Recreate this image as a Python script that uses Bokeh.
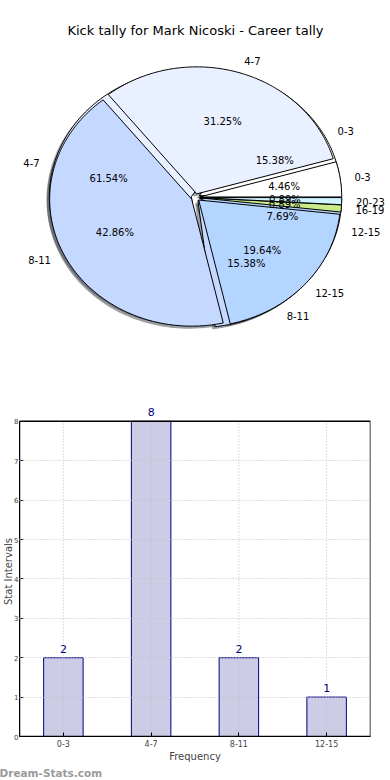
import numpy as np
from bokeh.plotting import figure
from bokeh.models import (Range1d, FactorRange, ColumnDataSource, Label, FixedTicker,
                          BoxAnnotation, Title)
from bokeh.embed import file_html
from bokeh.resources import INLINE
from bokeh.core.properties import value

# ---------------- data ----------------
title_text = "Kick tally for Mark Nicoski - Career tally"
career_labels = ["0-3", "4-7", "8-11", "12-15", "16-19", "20-23"]
career_counts = [5, 35, 48, 22, 1, 1]
season_labels = ["0-3", "4-7", "8-11", "12-15"]
season_counts = [2, 8, 2, 1]
y_ticks = [0, 1, 2, 3, 4, 5, 6, 7, 8]
x_axis_label = "Frequency"
y_axis_label = "Stat Intervals"
watermark = "Dream-Stats.com"

# ---------------- style ----------------
FONT = "DejaVu Sans"
palette = ["#ffffff", "#e9f0ff", "#c5d8ff", "#b4d5ff", "#ccec8c", "#cdf4ff"]
W, H1, H2 = 390, 400, 378
TOP1 = 38
RX, RY = 142.0, 127.0      # pie radii in pixels (elliptical pie, as in the original)
CX, CY = 195.0, 197.0      # pie centre in figure pixels (from top-left)
EXPLODE = 0.03
SHADOW = (-0.02, -0.02)
GRID_COLOR = "#c0c0c0"


def hex_to_rgb(h):
    h = h.lstrip("#")
    return tuple(int(h[i:i + 2], 16) for i in (0, 2, 4))


def shadow_color(h):
    r, g, b = hex_to_rgb(h)
    return "#%02x%02x%02x" % (int(r * 0.3), int(g * 0.3), int(b * 0.3))


def pie_geometry(counts):
    """Wedges in pixel units around the pie centre (y up)."""
    fr = np.asarray(counts, dtype=float) / float(sum(counts))
    ends = np.cumsum(fr) * 2 * np.pi
    starts = np.concatenate([[0.0], ends[:-1]])
    res = []
    for s, e, f in zip(starts, ends, fr):
        mid = 0.5 * (s + e)
        ex, ey = EXPLODE * np.cos(mid), EXPLODE * np.sin(mid)
        t = np.linspace(s, e, max(4, int((e - s) * 60)))
        xs = RX * np.concatenate([[ex], ex + np.cos(t), [ex]])
        ys = RY * np.concatenate([[ey], ey + np.sin(t), [ey]])
        res.append(dict(mid=mid, ex=ex, ey=ey, xs=xs, ys=ys, pct="%.2f%%" % (f * 100)))
    return res


def at(w, r):
    return (RX * (w["ex"] + r * np.cos(w["mid"])), RY * (w["ey"] + r * np.sin(w["mid"])))


p1 = figure(width=W, height=H1, output_backend="svg", toolbar_location=None,
            title=title_text, x_axis_location=None, y_axis_location=None,
            x_range=Range1d(-CX, W - CX),
            y_range=Range1d(-(H1 - CY), CY - TOP1),
            min_border_left=0, min_border_right=0, min_border_top=TOP1,
            min_border_bottom=0)
p1.title.align = "center"
p1.title.text_font = FONT
p1.title.text_font_size = "13px"
p1.title.text_font_style = "normal"
p1.title.text_color = "#000000"
p1.title.standoff = 2
p1.grid.visible = False
p1.outline_line_color = None
p1.background_fill_color = "white"

pies = [(season_labels, season_counts), (career_labels, career_counts)]
geoms = [pie_geometry(c) for _, c in pies]

# shadows (below every wedge)
for g in geoms:
    p1.patches([w["xs"] + SHADOW[0] * RX for w in g], [w["ys"] + SHADOW[1] * RY for w in g],
               fill_color=[shadow_color(palette[i]) for i in range(len(g))],
               fill_alpha=0.5, line_color=None)

# wedges: season pie first, career pie on top
for g in geoms:
    p1.patches([w["xs"] for w in g], [w["ys"] for w in g],
               fill_color=[palette[i] for i in range(len(g))],
               line_color="#000000", line_width=1)

# texts
for (labels, _), g in zip(pies, geoms):
    lab = [at(w, 1.1) for w in g]
    left = [i for i in range(len(g)) if lab[i][0] > 0]
    right = [i for i in range(len(g)) if lab[i][0] <= 0]
    for idx, al in ((left, "left"), (right, "right")):
        if idx:
            p1.text([lab[i][0] for i in idx], [lab[i][1] for i in idx],
                    [labels[i] for i in idx],
                    text_align=al, text_baseline="middle", text_font=value(FONT),
                    text_font_size="10px", text_color="#000000")
    pc = [at(w, 0.6) for w in g]
    p1.text([q[0] for q in pc], [q[1] for q in pc], [w["pct"] for w in g],
            text_align="center", text_baseline="middle",
            text_font=value(FONT), text_font_size="10px", text_color="#000000")

# ---------------- bar chart ----------------
TOP_PAD_PX = 15           # room above the box for the value labels
BOX_TOP_PX = 21           # box top, from the figure top
BOTTOM_BORDER = 38
frame_h = H2 - (BOX_TOP_PX - TOP_PAD_PX) - BOTTOM_BORDER
box_h = frame_h - TOP_PAD_PX
y_max = y_ticks[-1] * frame_h / box_h

src = ColumnDataSource(dict(cat=season_labels, val=season_counts))
p2 = figure(width=W, height=H2, output_backend="svg", toolbar_location=None,
            x_range=FactorRange(*season_labels, range_padding=0),
            y_range=Range1d(0, y_max),
            min_border_left=0, min_border_right=20,
            min_border_top=BOX_TOP_PX - TOP_PAD_PX, min_border_bottom=BOTTOM_BORDER)
p2.outline_line_color = None
p2.vbar(x="cat", top="val", width=0.45, source=src, fill_color="#cccce6",
        line_color="#000080", line_width=1)
# vertical grid lines at the categories, only inside the box
p2.segment(x0=season_labels, y0=[y_ticks[0]] * len(season_labels),
           x1=season_labels, y1=[y_ticks[-1]] * len(season_labels),
           line_color=GRID_COLOR, line_dash="1 2", line_width=1)
p2.xgrid.visible = False
p2.ygrid.ticker = FixedTicker(ticks=y_ticks[1:-1])
p2.ygrid.grid_line_color = GRID_COLOR
p2.ygrid.grid_line_dash = "1 2"
p2.ygrid.level = "overlay"
p2.add_layout(BoxAnnotation(bottom=y_ticks[0], top=y_ticks[-1], fill_alpha=0,
                            line_color="#000000", line_width=1.5, line_alpha=1))
for i, v in enumerate(season_counts):
    p2.add_layout(Label(x=i + 0.5, y=v, text=str(v), text_align="center",
                        text_baseline="bottom", y_offset=5, text_font=FONT,
                        text_font_size="11px", text_color="#000080"))
p2.yaxis.ticker = FixedTicker(ticks=y_ticks)
p2.yaxis.bounds = (y_ticks[0], y_ticks[-1])
for ax in (p2.xaxis, p2.yaxis):
    ax.major_tick_in = 4
    ax.major_tick_out = 0
    ax.minor_tick_line_color = None
    ax.axis_line_color = "#000000"
    ax.major_label_text_font = FONT
    ax.major_label_text_font_size = "8px"
    ax.major_label_standoff = 3
    ax.axis_label_text_font = FONT
    ax.axis_label_text_font_size = "10px"
    ax.axis_label_text_font_style = "normal"
    ax.axis_label_standoff = 1
p2.yaxis.major_label_text_font_size = "7px"
p2.yaxis.major_label_standoff = 1
p2.yaxis.axis_label_standoff = -3
p2.xaxis.axis_label = x_axis_label
p2.yaxis.axis_label = y_axis_label
p2.add_layout(Title(text=watermark, align="left", offset=-20, standoff=0,
                    text_font=FONT, text_font_size="10.5px", text_font_style="bold",
                    text_color="#9a9a9a"), "below")

# two separate roots, stacked, so the pie frame is not aligned to the bar frame
open("out.html", "w").write(file_html([p1, p2], INLINE))
